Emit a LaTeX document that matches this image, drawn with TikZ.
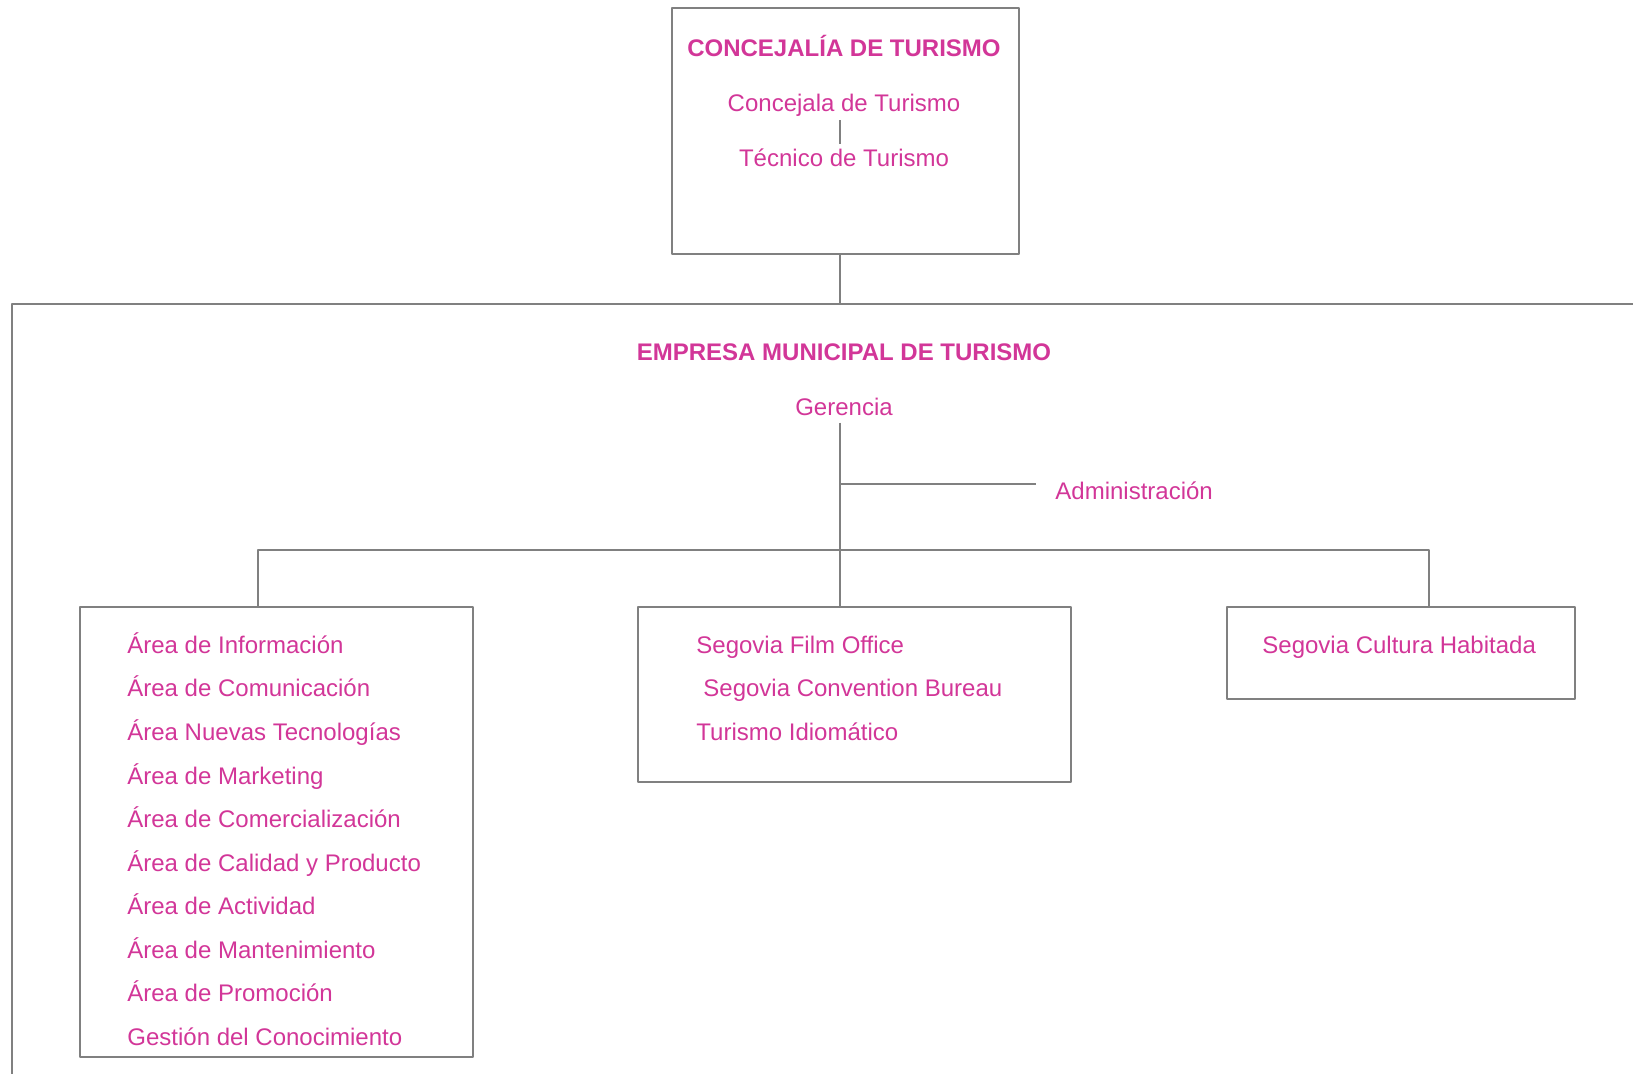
\documentclass[tikz,border=0pt]{standalone}
\usepackage{fontspec}
\setmainfont{Liberation Sans}
\usetikzlibrary{fit}
\definecolor{rosa}{RGB}{210,54,152}
\definecolor{gris}{RGB}{128,128,128}
\begin{document}
\begin{tikzpicture}[x=0.5pt,y=-0.5pt,line join=round,
	caja/.style={draw=gris,line width=1pt,inner sep=0pt},
	linea/.style={draw=gris,line width=1pt},
	txt/.style={text=rosa,inner sep=0pt,font=\fontsize{12pt}{14pt}\selectfont},
	tit/.style={txt,font=\fontsize{12pt}{14pt}\selectfont\bfseries}]
	\useasboundingbox (0,0) rectangle (1633,1074);
	% cajas
	\node[caja,fit={(672,8) (1019,254)}] (concejalia) {};
	\node[caja,fit={(80,607) (473,1057)}] (areas) {};
	\node[caja,fit={(638,607) (1071,782)}] (servicios) {};
	\node[caja,fit={(1227,607) (1575,699)}] (cultura) {};
	\coordinate (empresa) at (12,304);
	\draw[linea] (12,1074) -- (empresa) -- (1633,304);
	% concejalia
	\node[tit,anchor=base] (conc-tit) at (844,57) {CONCEJALÍA DE TURISMO};
	\node[txt,anchor=base] (concejala) at (844,112) {Concejala de Turismo};
	\node[txt,anchor=base] (tecnico) at (844,167) {Técnico de Turismo};
	% empresa
	\node[tit,anchor=base] (emp-tit) at (844,361) {EMPRESA MUNICIPAL DE TURISMO};
	\node[txt,anchor=base] (gerencia) at (844,415.5) {Gerencia};
	\node[txt,anchor=base west] (admin) at (1055,499.5) {Administración};
	% areas
	\foreach \t [count=\i from 0] in {Área de Información,Área de Comunicación,Área Nuevas Tecnologías,Área de Marketing,Área de Comercialización,Área de Calidad y Producto,Área de Actividad,Área de Mantenimiento,Área de Promoción,Gestión del Conocimiento}
		\node[txt,anchor=base west] (area\i) at (127,{653.5+43.5*\i}) {\t};
	\node[txt,anchor=base west] (film) at (696,653.5) {Segovia Film Office};
	\node[txt,anchor=base west] (bureau) at (703,697) {Segovia Convention Bureau};
	\node[txt,anchor=base west] (idioma) at (696,740.5) {Turismo Idiomático};
	\node[txt,anchor=base west] (habitada) at (1262,653.5) {Segovia Cultura Habitada};
	% conectores
	\coordinate (eje) at (840,550);
	\coordinate (adm) at (840,484);
	\coordinate (busL) at (258,550);
	\coordinate (busR) at (1429,550);
	\draw[linea,shorten <=1.5pt,shorten >=2.5pt] (concejala.south -| eje) -- (tecnico.north -| eje);
	\draw[linea] (concejalia.south -| eje) -- (empresa -| eje);
	\draw[linea,shorten <=3.25pt] (gerencia.south -| eje) -- (servicios.north -| eje);
	\draw[linea] (adm) -- ([xshift=-9.5pt]admin.west |- adm);
	\draw[linea] (areas.north -| busL) -- (busL) -- (busR) -- (cultura.north -| busR);
\end{tikzpicture}
\end{document}
